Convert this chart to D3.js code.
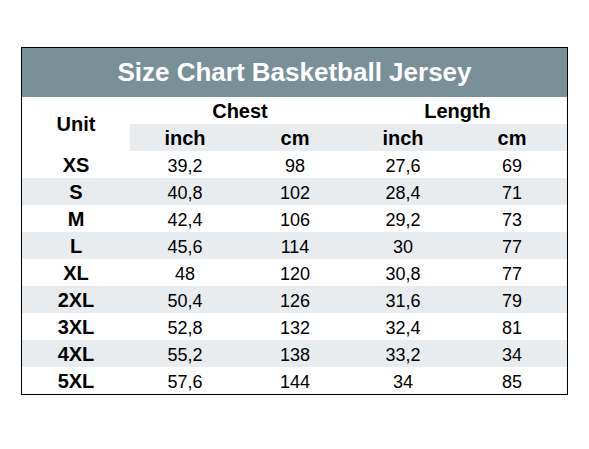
<!DOCTYPE html>
<html>
<head>
<meta charset="utf-8">
<script src="https://cdn.jsdelivr.net/npm/d3@7"></script>
<style>
  body { margin: 0; background: #fff; }
  text { font-family: "Liberation Sans", Arial, sans-serif; }
</style>
</head>
<body>
<div id="chart"></div>
<script>
var title = "Size Chart Basketball Jersey";
var sizes = ["XS", "S", "M", "L", "XL", "2XL", "3XL", "4XL", "5XL"];
var chestInch = ["39,2", "40,8", "42,4", "45,6", "48", "50,4", "52,8", "55,2", "57,6"];
var chestCm = ["98", "102", "106", "114", "120", "126", "132", "138", "144"];
var lengthInch = ["27,6", "28,4", "29,2", "30", "30,8", "31,6", "32,4", "33,2", "34"];
var lengthCm = ["69", "71", "73", "77", "77", "79", "81", "34", "85"];
var columns = ["unit", "chestInch", "chestCm", "lengthInch", "lengthCm"];

var width = 589, height = 449;
var left = 21, right = 568, topY = 47, bottomY = 395, headH = 50;

var svg = d3.select("#chart").append("svg")
    .attr("width", width)
    .attr("height", height);

// column centres
var colX = {unit: 76, chestInch: 185, chestCm: 295, lengthInch: 403, lengthCm: 512};

// rows: two header rows then data rows
var rowKeys = ["group", "sub"].concat(sizes);
var y = d3.scaleBand()
    .domain(rowKeys)
    .range([97, 97 + 27 * rowKeys.length]);

// header bar
svg.append("rect")
    .attr("x", left).attr("y", topY)
    .attr("width", right - left).attr("height", headH)
    .attr("fill", "#7a9099");

svg.append("text")
    .attr("x", (left + right) / 2).attr("y", topY + headH / 2 + 9)
    .attr("text-anchor", "middle")
    .attr("fill", "#fff")
    .style("font-size", "26px").style("font-weight", "bold")
    .text(title);

// stripes
svg.append("rect")
    .attr("x", 130).attr("y", y("sub"))
    .attr("width", right - 130).attr("height", y.bandwidth())
    .attr("fill", "#e9ecef");

svg.selectAll(".stripe")
    .data(sizes.filter(function(d, i) { return i % 2 == 1; }))
  .enter().append("rect")
    .attr("class", "stripe")
    .attr("x", left).attr("y", function(d) { return y(d); })
    .attr("width", right - left).attr("height", y.bandwidth())
    .attr("fill", "#e9ecef");

// header texts
function label(tx, ty, s) {
  svg.append("text")
      .attr("x", tx).attr("y", ty)
      .attr("text-anchor", "middle")
      .style("font-size", "20px").style("font-weight", "bold")
      .text(s);
}
var mid = function(k) { return y(k) + y.bandwidth() / 2 + 7; };
label(colX.unit, y("sub") + 7, "Unit");
label((colX.chestInch + colX.chestCm) / 2, mid("group"), "Chest");
label((colX.lengthInch + colX.lengthCm) / 2, mid("group"), "Length");
["chestInch", "chestCm", "lengthInch", "lengthCm"].forEach(function(c, i) {
  label(colX[c], mid("sub"), i % 2 == 0 ? "inch" : "cm");
});

// data rows
var data = sizes.map(function(s, i) {
  return {unit: s, chestInch: chestInch[i], chestCm: chestCm[i],
          lengthInch: lengthInch[i], lengthCm: lengthCm[i]};
});

data.forEach(function(d) {
  columns.forEach(function(c) {
    svg.append("text")
        .attr("x", colX[c]).attr("y", mid(d.unit))
        .attr("text-anchor", "middle")
        .style("font-size", c == "unit" ? "20px" : "18px")
        .style("font-weight", c == "unit" ? "bold" : "normal")
        .text(d[c]);
  });
});

// outer border
svg.append("rect")
    .attr("x", left + 0.5).attr("y", topY + 0.5)
    .attr("width", right - left - 1).attr("height", bottomY - topY - 1)
    .attr("fill", "none")
    .attr("stroke", "#000");
</script>
</body>
</html>
